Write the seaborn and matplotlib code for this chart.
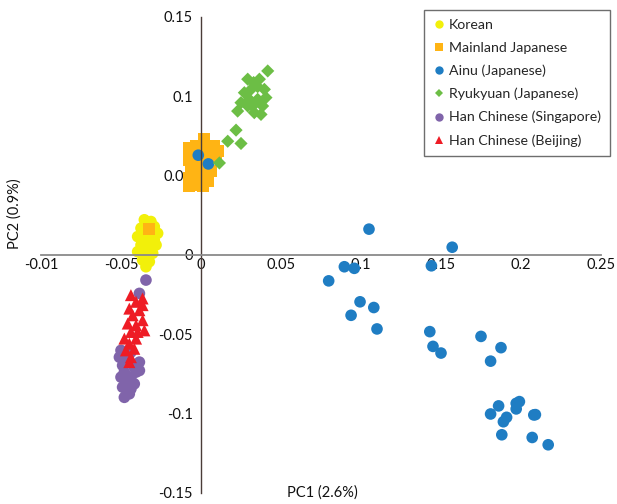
import pandas as pd
import seaborn as sns
import matplotlib.pyplot as plt

# PCA coordinates
korean_x = [-0.0354, -0.0313, -0.0292, -0.0375, -0.0333, -0.0271, -0.0396, -0.0344, -0.0292,
            -0.0375, -0.0323, -0.0281, -0.0396, -0.0344, -0.0302, -0.0365, -0.0323, -0.0344]
korean_y = [0.0222, 0.0211, 0.0179, 0.0169, 0.0137, 0.0137, 0.0116, 0.0106, 0.0095,
            0.0063, 0.0053, 0.0063, 0.0021, 0.0011, 0.0011, -0.0032, -0.0042, -0.0074]

mainland_x = [0.0021, -0.0031, 0.0083, -0.0073, 0.0, 0.0052, 0.0104, -0.0052, 0.0010, 0.0063,
              -0.0073, -0.0021, 0.0094, -0.0042, 0.0021, -0.0063, 0.0, 0.0063, -0.0073, -0.0021,
              0.0042, -0.0052, 0.0010, -0.0073, -0.0323]
mainland_y = [0.0728, 0.0685, 0.0685, 0.0675, 0.0675, 0.0665, 0.0654, 0.0633, 0.0633, 0.0622,
              0.0601, 0.0601, 0.0612, 0.0559, 0.0549, 0.0527, 0.0517, 0.0527, 0.0485, 0.0475,
              0.0464, 0.0443, 0.0432, 0.0432, 0.0163]

ainu_x = [-0.0017, 0.0046, 0.105, 0.157, 0.0896, 0.0958, 0.144, 0.0798, 0.0994, 0.108, 0.0938,
          0.110, 0.143, 0.145, 0.150, 0.175, 0.1875, 0.181, 0.186, 0.181, 0.197, 0.199, 0.197,
          0.191, 0.189, 0.208, 0.209, 0.188, 0.207, 0.217]
ainu_y = [0.0629, 0.0574, 0.0163, 0.0049, -0.0074, -0.0084, -0.0068, -0.0163, -0.0295, -0.0331,
          -0.0380, -0.0466, -0.0483, -0.0576, -0.0618, -0.0513, -0.0584, -0.0669, -0.0951,
          -0.1002, -0.0935, -0.0924, -0.0970, -0.1023, -0.1051, -0.1008, -0.1006, -0.1133,
          -0.1150, -0.1196]

ryukyu_x = [0.0417, 0.0292, 0.0329, 0.0365, 0.0354, 0.0313, 0.0396, 0.0406, 0.0271, 0.0302,
            0.0354, 0.0229, 0.0292, 0.0385, 0.0333, 0.0375, 0.0250, 0.0323, 0.0219, 0.0167,
            0.0250, 0.0115]
ryukyu_y = [0.1160, 0.1108, 0.1087, 0.1108, 0.1061, 0.1044, 0.1044, 0.0992, 0.1023, 0.0981,
            0.0981, 0.0907, 0.0939, 0.0939, 0.0897, 0.0886, 0.0960, 0.0939, 0.0787, 0.0717,
            0.0703, 0.0580]

han_sg_x = [-0.0344, -0.0385, -0.0500, -0.0438, -0.0510, -0.0458, -0.0385, -0.0490, -0.0417,
            -0.0479, -0.0406, -0.0385, -0.0500, -0.0438, -0.0469, -0.0417, -0.0490, -0.0438,
            -0.0448, -0.0479]
han_sg_y = [-0.0158, -0.0242, -0.0601, -0.0612, -0.0644, -0.0654, -0.0675, -0.0696, -0.0707,
            -0.0738, -0.0738, -0.0728, -0.0770, -0.0770, -0.0802, -0.0812, -0.0833, -0.0844,
            -0.0875, -0.0897]

han_bj_x = [-0.0438, -0.0365, -0.0406, -0.0365, -0.0448, -0.0385, -0.0427, -0.0365, -0.0458,
            -0.0406, -0.0354, -0.0438, -0.0396, -0.0479, -0.0406, -0.0448, -0.0417, -0.0469,
            -0.0438, -0.0448]
han_bj_y = [-0.0253, -0.0274, -0.0295, -0.0316, -0.0338, -0.0348, -0.0380, -0.0411, -0.0432,
            -0.0443, -0.0475, -0.0485, -0.0485, -0.0527, -0.0527, -0.0559, -0.0591, -0.0601,
            -0.0644, -0.0675]

groups = ["Korean", "Mainland Japanese", "Ainu (Japanese)", "Ryukyuan (Japanese)",
          "Han Chinese (Singapore)", "Han Chinese (Beijing)"]
colors = ["#F2F00A", "#FFB414", "#1F7DC3", "#6CBE45", "#8064AA", "#EE1C25"]
markers = ["o", "s", "o", "D", "o", "^"]

xticks = [-0.1, -0.05, 0, 0.05, 0.1, 0.15, 0.2, 0.25]
xticklabels = ["-0.01", "-0.05", "0", "0.05", "0.1", "0.15", "0.2", "0.25"]
yticks = [-0.15, -0.1, -0.05, 0, 0.05, 0.1, 0.15]
yticklabels = ["-0.15", "-0.1", "-0.05", "0", "0.05", "0.1", "0.15"]


def main():
    xs = [korean_x, mainland_x, ainu_x, ryukyu_x, han_sg_x, han_bj_x]
    ys = [korean_y, mainland_y, ainu_y, ryukyu_y, han_sg_y, han_bj_y]
    df = pd.concat([pd.DataFrame({"PC1": x, "PC2": y, "group": g})
                    for g, x, y in zip(groups, xs, ys)], ignore_index=True)
    sizes = {"Korean": 70, "Mainland Japanese": 75, "Ainu (Japanese)": 70,
             "Ryukyuan (Japanese)": 45, "Han Chinese (Singapore)": 70,
             "Han Chinese (Beijing)": 75}

    sns.set_style("white")
    plt.rcParams["font.family"] = ["Lato", "DejaVu Sans"]
    fs = 10.5

    fig = plt.figure(figsize=(6.17, 5.04), dpi=100)
    ax = fig.add_axes([41 / 617, 11 / 504, 560 / 617, 476 / 504])

    sns.scatterplot(data=df, x="PC1", y="PC2", hue="group", style="group",
                    size="group", sizes=sizes, hue_order=groups, style_order=groups,
                    size_order=groups, palette=dict(zip(groups, colors)),
                    markers=dict(zip(groups, markers)), linewidth=0, ax=ax)

    ax.set_xlim(-0.1, 0.25)
    ax.set_ylim(-0.15, 0.15)
    ax.set_xticks(xticks)
    ax.set_xticklabels(xticklabels)
    ax.set_yticks(yticks)
    ax.set_yticklabels(yticklabels)
    ax.set_xlabel("")
    ax.set_ylabel("")

    ax.spines["top"].set_visible(False)
    ax.spines["right"].set_visible(False)
    ax.spines["left"].set_position("zero")
    ax.spines["bottom"].set_position("zero")
    ax.spines["bottom"].set_color("#8a8a8a")
    ax.spines["left"].set_color("#4a3c38")
    ax.spines["bottom"].set_linewidth(1.3)
    ax.spines["left"].set_linewidth(1.0)
    ax.tick_params(axis="both", length=0, labelsize=fs, colors="#111111")
    ax.tick_params(axis="y", pad=6)
    ax.tick_params(axis="x", pad=2)

    fig.text(322 / 617, 1 - 493 / 504, "PC1 (2.6%)", ha="center", va="center",
             fontsize=fs, color="#111111")
    fig.text(15 / 617, 1 - 214 / 504, "PC2 (0.9%)", ha="center", va="center",
             rotation=90, fontsize=fs, color="#111111")

    handles, labels = ax.get_legend_handles_labels()
    leg = ax.legend(handles, labels, loc="upper right",
                    bbox_to_anchor=(610 / 617, 1 - 10 / 504), bbox_transform=fig.transFigure,
                    borderaxespad=0, frameon=True, fancybox=False, framealpha=1,
                    edgecolor="#6e6e6e", handlelength=0.75, handletextpad=0.38,
                    labelspacing=0.76, borderpad=0.62, fontsize=10.2)
    leg.get_frame().set_linewidth(1.0)
    for h, m in zip(leg.legend_handles, markers):
        h.set_markersize(4.5 if m == "D" else 6)

    fig.savefig("out.png", dpi=100, facecolor="white")


if __name__ == "__main__":
    main()
